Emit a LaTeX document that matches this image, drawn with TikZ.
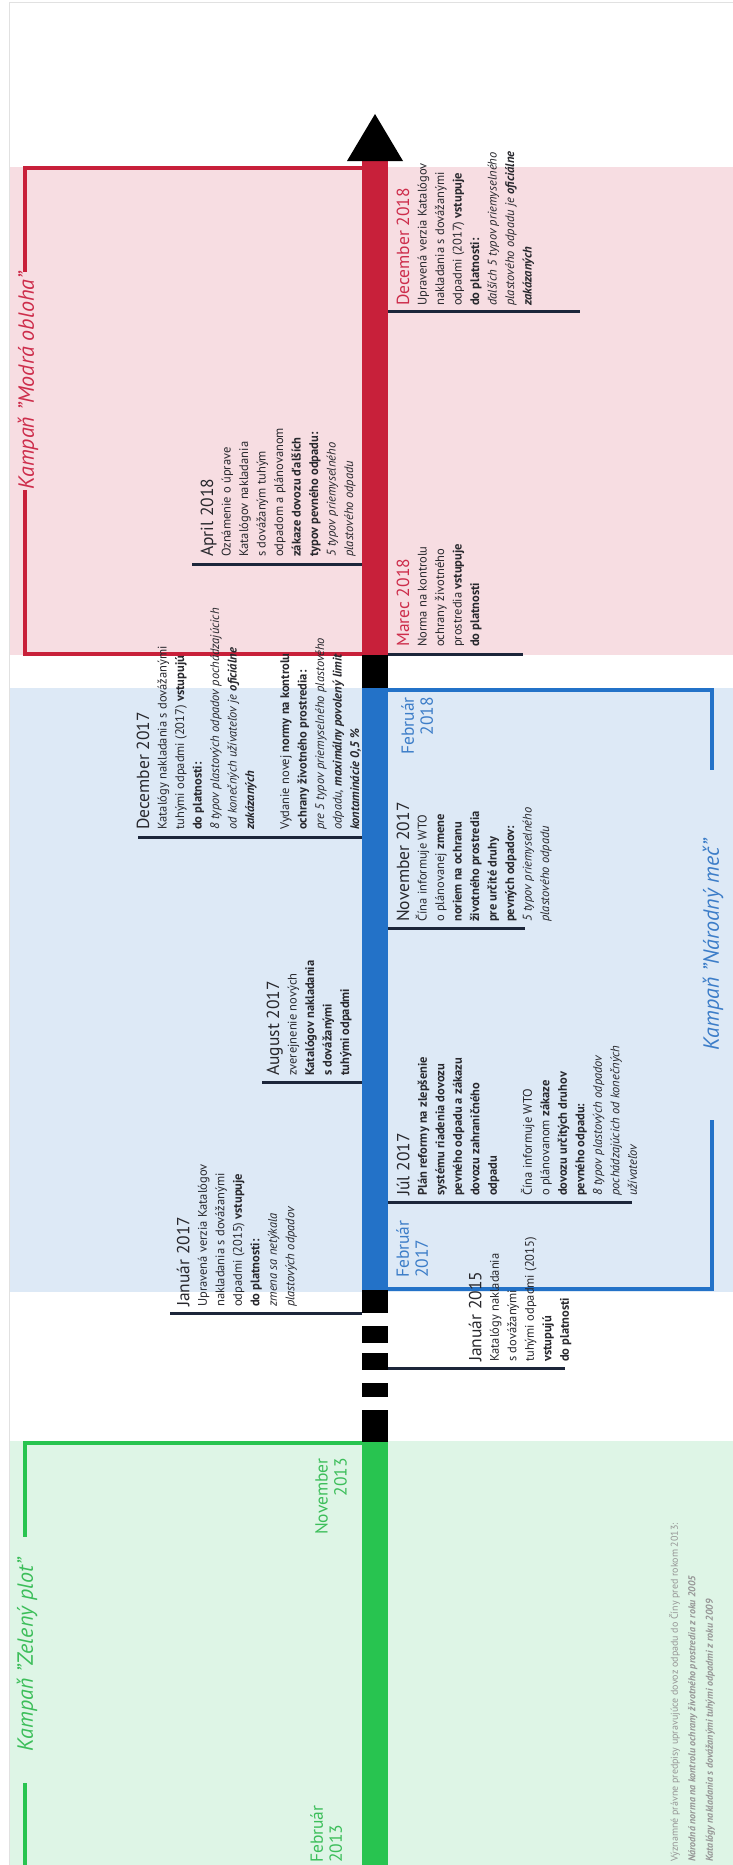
\documentclass[tikz,border=0pt]{standalone}
\usepackage{fontspec}
\setmainfont{PT Sans}
\definecolor{tlred}{RGB}{200,32,58}
\definecolor{tlblue}{RGB}{35,114,200}
\definecolor{tlgreen}{RGB}{40,196,80}
\definecolor{bgpink}{RGB}{247,221,226}
\definecolor{bgblue}{RGB}{221,233,246}
\definecolor{bggreen}{RGB}{222,245,230}
\definecolor{tickc}{RGB}{28,38,58}
\definecolor{txt}{RGB}{40,40,45}
\definecolor{redtxt}{RGB}{205,45,75}
\definecolor{bluetxt}{RGB}{60,125,200}
\definecolor{greentxt}{RGB}{60,190,90}
\definecolor{notec}{RGB}{150,150,150}
\definecolor{framec}{RGB}{225,225,225}
\newcommand{\bodyf}{\fontsize{12.5}{17.5}\selectfont}
\newcommand{\ttl}[1]{{\fontsize{17.5}{17.5}\selectfont #1}}
\newcommand{\bi}[1]{\textbf{\textit{#1}}}
\begin{document}
\begin{tikzpicture}[x=1pt,y=-1pt,
  tickline/.style={draw=tickc,line width=3pt},
  ev/.style={rotate=90,anchor=north west,align=left,inner sep=0pt,text=txt,font=\bodyf},
  datelbl/.style={rotate=90,inner sep=0pt,font=\fontsize{17.5}{19}\selectfont},
  camp/.style={rotate=90,inner sep=0pt,font=\fontsize{22}{24}\selectfont\itshape},
  brack/.style={line width=3.5pt}]
\useasboundingbox (0,0) rectangle (733,1865);
\fill[white] (0,0) rectangle (733,1865);
% backgrounds
\fill[bgpink] (10,167) rectangle (733,655);
\fill[bgblue] (10,688) rectangle (733,1292);
\fill[bggreen] (10,1441) rectangle (733,1865);
\draw[framec,line width=1pt] (9,1865) -- (9,3) -- (733,3);
% campaign brackets
\coordinate (r1) at (362,168); \coordinate (r2) at (25,168); \coordinate (r3) at (25,272);
\coordinate (r4) at (25,490); \coordinate (r5) at (25,654); \coordinate (r6) at (362,654);
\draw[tlred,brack] (r1) -- (r2) -- (r3);
\draw[tlred,brack] (r4) -- (r5) -- (r6);
\node[camp,text=redtxt] (cmo) at (28,381) {Kampaň "Modrá obloha"};
\coordinate (g1) at (362,1443); \coordinate (g2) at (25,1443); \coordinate (g3) at (25,1537);
\coordinate (g4) at (25,1783); \coordinate (g5) at (25,1865);
\draw[tlgreen,brack] (g1) -- (g2) -- (g3);
\draw[tlgreen,brack] (g4) -- (g5);
\node[camp,text=greentxt] (czp) at (27,1655) {Kampaň "Zelený plot"};
\coordinate (b1) at (388,690); \coordinate (b2) at (712,690); \coordinate (b3) at (712,770);
\coordinate (b4) at (712,1120); \coordinate (b5) at (712,1289); \coordinate (b6) at (388,1289);
\draw[tlblue,brack] (b1) -- (b2) -- (b3);
\draw[tlblue,brack] (b4) -- (b5) -- (b6);
\node[camp,text=bluetxt] (cnm) at (713,945) {Kampaň "Národný meč"};
% ticks
\coordinate (t1a) at (388,311);  \coordinate (t1b) at (580,311);
\coordinate (t2a) at (192,564);  \coordinate (t2b) at (362,564);
\coordinate (t3a) at (388,654);  \coordinate (t3b) at (523,654);
\coordinate (t4a) at (138,837);  \coordinate (t4b) at (362,837);
\coordinate (t5a) at (388,928);  \coordinate (t5b) at (525,928);
\coordinate (t6a) at (262,1082); \coordinate (t6b) at (362,1082);
\coordinate (t7a) at (388,1202); \coordinate (t7b) at (632,1202);
\coordinate (t8a) at (170,1313); \coordinate (t8b) at (362,1313);
\coordinate (t9a) at (388,1368); \coordinate (t9b) at (565,1368);
\foreach \i in {1,...,9} {\draw[tickline] (t\i a) -- (t\i b);}
% timeline
\fill[tlred] (362,160) rectangle (388,655);
\fill[black] (362,655) rectangle (388,688);
\fill[tlblue] (362,688) rectangle (388,1290);
\fill[black] (362,1290) rectangle (388,1313);
\fill[black] (362,1326) rectangle (388,1343);
\fill[black] (362,1353) rectangle (388,1370);
\fill[black] (362,1383) rectangle (388,1397);
\fill[black] (362,1410) rectangle (388,1442);
\fill[tlgreen] (362,1442) rectangle (388,1865);
\fill[black] (347,161) -- (375,114) -- (403,161) -- cycle;
% events
\node[ev] (e1) at (396.5,306) {\ttl{\textcolor{redtxt}{December 2018}}\\
Upravená verzia Katalógov\\
nakladania s dovážanými\\
odpadmi (2017) \textbf{vstupuje}\\
\textbf{do platnosti:}\\
\textit{ďalších 5 typov priemyselného}\\
\textit{plastového odpadu je} \bi{oficiálne}\\
\bi{zakázaných}};
\node[ev] (e2) at (200.5,557) {\ttl{April 2018}\\
Oznámenie o úprave\\
Katalógov nakladania\\
s dovážaným tuhým\\
odpadom a plánovanom\\
\textbf{zákaze dovozu ďalších}\\
\textbf{typov pevného odpadu:}\\
\textit{5 typov priemyselného}\\
\textit{plastového odpadu}};
\node[ev] (e3) at (396.5,647) {\ttl{\textcolor{redtxt}{Marec 2018}}\\
Norma na kontrolu\\
ochrany životného\\
prostredia \textbf{vstupuje}\\
\textbf{do platnosti}};
\node[ev] (e4) at (136.5,830) {\ttl{December 2017}\\
Katalógy nakladania s dovážanými\\
tuhými odpadmi (2017) \textbf{vstupujú}\\
\textbf{do platnosti:}\\
\textit{8 typov plastových odpadov pochádzajúcich}\\
\textit{od konečných užívateľov je} \bi{oficiálne}\\
\bi{zakázaných}\\[17.5pt]
Vydanie novej \textbf{normy na kontrolu}\\
\textbf{ochrany životného prostredia:}\\
\textit{pre 5 typov priemyselného plastového}\\
\textit{odpadu,} \bi{maximálny povolený limit}\\
\bi{kontaminácie 0,5 \%}};
\node[ev] (e5) at (396.5,922) {\ttl{November 2017}\\
Čína informuje WTO\\
o plánovanej \textbf{zmene}\\
\textbf{noriem na ochranu}\\
\textbf{životného prostredia}\\
\textbf{pre určité druhy}\\
\textbf{pevných odpadov:}\\
\textit{5 typov priemyselného}\\
\textit{plastového odpadu}};
\node[ev] (e6) at (266.5,1076) {\ttl{August 2017}\\
zverejnenie nových\\
\textbf{Katalógov nakladania}\\
\textbf{s dovážanými}\\
\textbf{tuhými odpadmi}};
\node[ev] (e7) at (396.5,1196) {\ttl{Júl 2017}\\
\textbf{Plán reformy na zlepšenie}\\
\textbf{systému riadenia dovozu}\\
\textbf{pevného odpadu a zákazu}\\
\textbf{dovozu zahraničného}\\
\textbf{odpadu}\\[17.5pt]
Čína informuje WTO\\
o plánovanom \textbf{zákaze}\\
\textbf{dovozu určitých druhov}\\
\textbf{pevného odpadu:}\\
\textit{8 typov plastových odpadov}\\
\textit{pochádzajúcich od konečných}\\
\textit{užívateľov}};
\node[ev] (e8) at (176.5,1307) {\ttl{Január 2017}\\
Upravená verzia Katalógov\\
nakladania s dovážanými\\
odpadmi (2015) \textbf{vstupuje}\\
\textbf{do platnosti:}\\
\textit{zmena sa netýkala}\\
\textit{plastových odpadov}};
\node[ev] (e9) at (468.5,1362) {\ttl{Január 2015}\\
Katalógy nakladania\\
s dovážanými\\
tuhými odpadmi (2015)\\
\textbf{vstupujú}\\
\textbf{do platnosti}};
% period labels
\node[datelbl,anchor=north east,align=right,text=bluetxt] (f18) at (401,697) {Február\\2018};
\node[datelbl,anchor=north west,align=left,text=bluetxt] (f17) at (396,1278) {Február\\2017};
\node[datelbl,anchor=north east,align=right,text=greentxt] (n13) at (315,1458) {November\\2013};
\node[datelbl,anchor=north west,align=left,text=greentxt] (f13) at (310,1863) {Február\\2013};
% note
\node[rotate=90,anchor=north west,align=left,inner sep=0pt,text=notec,font=\fontsize{10}{17.5}\selectfont] (note) at (669,1862) {Významné právne predpisy upravujúce dovoz odpadu do Číny pred rokom 2013:\\
\bi{Národná norma na kontrolu ochrany životného prostredia z roku 2005}\\
\bi{Katalógy nakladania s dovážanými tuhými odpadmi z roku 2009}};
\end{tikzpicture}
\end{document}
